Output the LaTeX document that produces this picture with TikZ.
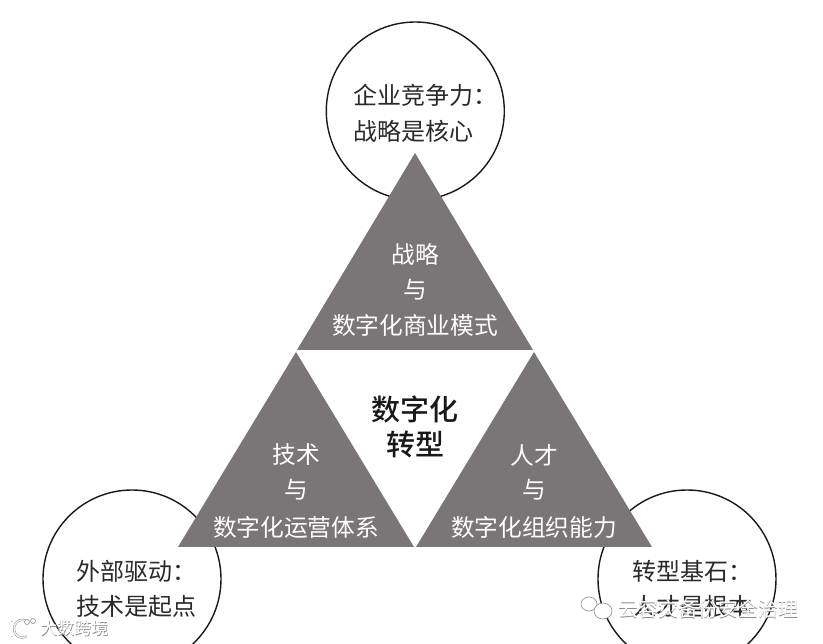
\documentclass[tikz,border=0pt]{standalone}
\usepackage{fontspec}
\setmainfont{Noto Sans CJK SC}
\newfontfamily\hubcjk{Noto Sans CJK SC Medium}
\definecolor{trigrey}{HTML}{7A7677}
\definecolor{inkgrey}{HTML}{2A2A2A}
\definecolor{markgrey}{HTML}{8A8A8A}
\tikzset{
  ring/.style={draw=black!90,line width=1.4pt,fill=white,circle,minimum size=178pt,inner sep=0pt},
  wedge/.style={fill=trigrey,draw=none},
  circletext/.style={anchor=west,inner sep=0pt,text=inkgrey,font=\fontsize{24}{24}\selectfont},
  tritext/.style={inner sep=0pt,text=white,font=\fontsize{23.7}{24}\selectfont},
  hubtext/.style={inner sep=0pt,text=black!90,font=\fontsize{29}{30}\hubcjk\selectfont},
  markshadow/.style={inner sep=0pt,anchor=west,text=markgrey},
  marktop/.style={inner sep=0pt,anchor=west,text=white},
  logoshadow/.style={draw=markgrey,line width=2.2pt,line cap=round},
  logotop/.style={draw=white,line width=1.2pt,line cap=round},
}
\begin{document}
\begin{tikzpicture}[x=1pt,y=-1pt]
\useasboundingbox (0,0) rectangle (823,644);
\clip (0,0) rectangle (823,644);
\fill[white] (0,0) rectangle (823,644);
% circles
\node[ring] (ctop) at (415.3,111) {};
\node[ring] (cleft) at (132,579) {};
\node[ring] (cright) at (687,579) {};
% triangles
\fill[wedge] (415,153) -- (533,350) -- (297,350) -- cycle;
\fill[wedge] (296,352) -- (414,547) -- (178,547) -- cycle;
\fill[wedge] (534,352) -- (652,547) -- (416,547) -- cycle;
% circle text
\node[circletext] (t1) at (353,95) {企业竞争力：};
\node[circletext] (t2) at (353,131) {战略是核心};
\node[circletext] (l1) at (76,571) {外部驱动：};
\node[circletext] (l2) at (76,606) {技术是起点};
\node[circletext] (r1) at (632,571) {转型基石：};
\node[circletext] (r2) at (632,606) {人才是根本};
% triangle text
\node[tritext] (a1) at (415,254) {战略};
\node[tritext] (a2) at (415,290) {与};
\node[tritext] (a3) at (415,325) {数字化商业模式};
\node[tritext] (b1) at (296,455) {技术};
\node[tritext] (b2) at (296,490) {与};
\node[tritext] (b3) at (296,527) {数字化运营体系};
\node[tritext] (c1) at (534,455) {人才};
\node[tritext] (c2) at (534,490) {与};
\node[tritext] (c3) at (534,527) {数字化组织能力};
% hub
\node[hubtext] (h1) at (415,409) {数字化};
\node[hubtext] (h2) at (415,445) {转型};
% watermarks
\node[markshadow,font=\fontsize{20}{20}\selectfont] (w1s) at (618.7,609.7) {云容灾备份安全治理};
\node[marktop,font=\fontsize{20}{20}\selectfont] (w1) at (618,609) {云容灾备份安全治理};
\node[markshadow,font=\fontsize{17}{17}\selectfont] (w2s) at (40.6,628.6) {大数跨境};
\node[marktop,font=\fontsize{17}{17}\selectfont] (w2) at (40,628) {大数跨境};
% watermark icons
\draw[markgrey,fill=white,line width=.6pt] (589,604) ellipse (8pt and 7pt);
\draw[markgrey,fill=white,line width=.6pt] (603,611) ellipse (9pt and 8pt);
\draw[logoshadow] (12,622) -- (12,636);
\draw[logoshadow] (26,621) arc (60:300:8pt and 9pt);
\draw[logotop] (12,622) -- (12,636);
\draw[logotop] (26,621) arc (60:300:8pt and 9pt);
\draw[markgrey,fill=white,line width=.5pt] (27,622) circle (2.5pt);
\draw[markgrey,fill=white,line width=.5pt] (33,621) circle (2.5pt);
\end{tikzpicture}
\end{document}
